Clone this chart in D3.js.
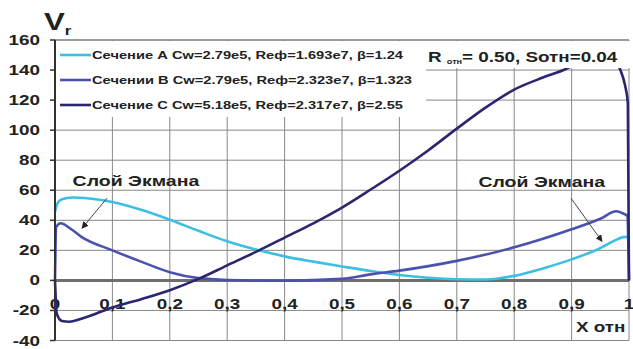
<!DOCTYPE html>
<html>
<head>
<meta charset="utf-8">
<script src="https://cdn.jsdelivr.net/npm/d3@7"></script>
<style>
  body { margin: 0; background: #fff; }
  text { font-family: "Liberation Sans", Arial, sans-serif; font-weight: bold; fill: #222; }
</style>
</head>
<body>
<svg id="chart" width="633" height="349"></svg>
<script>
// Axis ticks
const xTicks = [0, 0.1, 0.2, 0.3, 0.4, 0.5, 0.6, 0.7, 0.8, 0.9, 1];
const xTickLabels = ["0", "0,1", "0,2", "0,3", "0,4", "0,5", "0,6", "0,7", "0,8", "0,9", "1"];
const yTicks = [-40, -20, 0, 20, 40, 60, 80, 100, 120, 140, 160];

// Series names and colours
const seriesNames = [
  "Сечение А Cw=2.79e5, Reф=1.693e7, β=1.24",
  "Сечении В Cw=2.79e5, Reф=2.323e7, β=1.323",
  "Сечение С Cw=5.18e5, Reф=2.317e7, β=2.55"
];
const seriesColors = ["#3dbfe2", "#4a52ad", "#2a2670"];

// Profiles: [X отн, Vr]
const sectionA = [[0,45.5],[0.004,51],[0.012,54],[0.03,55.2],[0.06,54.5],[0.1,52.2],[0.15,47],[0.2,40.4],
  [0.25,33],[0.3,26],[0.35,20.5],[0.4,16],[0.45,12.5],[0.5,9.3],[0.55,6.2],[0.6,3.6],[0.65,1.8],[0.7,0.8],
  [0.75,0.6],[0.8,3],[0.85,8],[0.9,14],[0.95,21.5],[0.975,26.5],[0.99,28.8],[1.0,29]];
const sectionB = [[0,0],[0.002,35.5],[0.01,38],[0.025,35],[0.046,29],[0.1,20],[0.15,12.5],[0.2,5.5],
  [0.25,1.5],[0.3,0.3],[0.4,-0.2],[0.5,1],[0.55,4],[0.6,6.5],[0.7,13],[0.8,22],[0.9,34],[0.95,41],
  [0.978,46],[0.99,44.5],[0.997,43],[1.0,0]];
const sectionC = [[0,0],[0.003,-22],[0.012,-27],[0.025,-27.5],[0.05,-25],[0.1,-18],[0.15,-12.5],[0.2,-6.5],
  [0.25,1],[0.3,10],[0.35,19],[0.4,28.5],[0.45,38],[0.5,48.5],[0.55,60.5],[0.6,73],[0.65,86.5],[0.7,101],
  [0.75,115],[0.8,127],[0.85,135],[0.886,140],[0.92,146],[0.95,148],[0.975,146],[0.985,140],[0.993,130],
  [0.998,118],[1.0,0]];

// Annotations: "Слой Экмана" labels and arrows, in data units
const ekmanLabels = [{ x: 0.141, y: 63, text: "Слой Экмана" }, { x: 0.848, y: 62, text: "Слой Экмана" }];
const ekmanArrows = [{ x1: 0.0906, y1: 54.7, x2: 0.047, y2: 34.7 }, { x1: 0.899, y1: 54.7, x2: 0.953, y2: 26 }];

const svg = d3.select("#chart");
const W = 633, H = 349;
const plot = { left: 55, right: 629, top: 40, bottom: 340.5 };
const sx = 1.3; // horizontal stretch of the lettering

const x = d3.scaleLinear().domain([0, 1]).range([plot.left, plot.right]);
const y = d3.scaleLinear().domain([-40, 160]).range([plot.bottom, plot.top]);

svg.append("rect").attr("width", W).attr("height", H).attr("fill", "#fff");

const defs = svg.append("defs");
defs.append("marker").attr("id", "arrowhead").attr("viewBox", "0 0 10 10")
  .attr("refX", 9).attr("refY", 5).attr("markerWidth", 7).attr("markerHeight", 7)
  .attr("markerUnits", "userSpaceOnUse").attr("orient", "auto")
  .append("path").attr("d", "M0,0 L10,5 L0,10 Z").attr("fill", "#222");

function label(g, px, py, str, size, anchor) {
  return g.append("text")
    .attr("transform", `translate(${px},${py}) scale(${sx},1)`)
    .attr("text-anchor", anchor || "start")
    .attr("font-size", size)
    .text(str);
}

// Grid
const grid = svg.append("g");
grid.selectAll("line.h").data(yTicks).join("line")
  .attr("x1", plot.left).attr("x2", plot.right)
  .attr("y1", d => y(d)).attr("y2", d => y(d))
  .attr("stroke", "#888").attr("stroke-width", 1);
grid.selectAll("line.v").data(xTicks.slice(1)).join("line")
  .attr("x1", d => x(d)).attr("x2", d => x(d))
  .attr("y1", plot.top).attr("y2", plot.bottom)
  .attr("stroke", "#888").attr("stroke-width", 1);

// Zero line
svg.append("line").attr("x1", plot.left).attr("x2", plot.right)
  .attr("y1", y(0)).attr("y2", y(0)).attr("stroke", "#6e6e6e").attr("stroke-width", 3);

// X tick labels sit inside the plot, under the zero line
xTicks.forEach((t, i) => label(svg, x(t), 309, xTickLabels[i], 14.5, "middle"));

// Curves
const line = d3.line().x(d => x(d[0])).y(d => y(d[1])).curve(d3.curveMonotoneX);
[sectionA, sectionB, sectionC].forEach((s, i) => {
  svg.append("path").datum(s).attr("d", line)
    .attr("fill", "none").attr("stroke", seriesColors[i]).attr("stroke-width", 2.6)
    .attr("stroke-linejoin", "round");
});

// Legend box
svg.append("rect").attr("x", plot.left + 1).attr("y", plot.top + 1)
  .attr("width", 370).attr("height", 76).attr("fill", "#fff");
seriesNames.forEach((name, i) => {
  const cy = 55 + i * 25;
  svg.append("line").attr("x1", 60).attr("x2", 91).attr("y1", cy).attr("y2", cy)
    .attr("stroke", seriesColors[i]).attr("stroke-width", 2.6);
  label(svg, 92, cy + 4, name, 11.3);
});

// Parameter box
svg.append("rect").attr("x", 425).attr("y", plot.top + 1).attr("width", 208).attr("height", 27).attr("fill", "#fff");
const rt = svg.append("text")
  .attr("transform", `translate(428,62) scale(${sx},1)`)
  .attr("font-size", 14.5);
rt.append("tspan").text("R ");
rt.append("tspan").attr("font-size", 7).attr("dy", 2).text("отн");
rt.append("tspan").attr("dy", -2).text("= 0.50, Sотн=0.04");

// Frame and left axis
svg.append("line").attr("x1", plot.left).attr("x2", plot.right)
  .attr("y1", plot.top).attr("y2", plot.top).attr("stroke", "#777").attr("stroke-width", 1.2);
svg.append("line").attr("x1", plot.left).attr("x2", plot.left)
  .attr("y1", plot.top).attr("y2", plot.bottom).attr("stroke", "#333").attr("stroke-width", 2);
svg.selectAll("line.yt").data(yTicks).join("line")
  .attr("x1", plot.left - 5).attr("x2", plot.left)
  .attr("y1", d => y(d)).attr("y2", d => y(d)).attr("stroke", "#333").attr("stroke-width", 1.5);
yTicks.forEach(t => label(svg, 40, y(t) + 5, String(t), 14.5, "end"));

// Axis titles
const vt = svg.append("text").attr("transform", `translate(44,30) scale(${sx},1)`)
  .attr("font-size", 24).attr("font-weight", "normal");
vt.append("tspan").text("V");
vt.append("tspan").attr("font-size", 13).attr("dy", 5).text("r");
label(svg, 576, 332, "X отн", 14.5);

// Ekman layer annotations
ekmanLabels.forEach(a => label(svg, x(a.x), y(a.y), a.text, 15, "middle"));
ekmanArrows.forEach(a => {
  svg.append("line").attr("x1", x(a.x1)).attr("y1", y(a.y1)).attr("x2", x(a.x2)).attr("y2", y(a.y2))
    .attr("stroke", "#444").attr("stroke-width", 1).attr("marker-end", "url(#arrowhead)");
});
</script>
</body>
</html>
